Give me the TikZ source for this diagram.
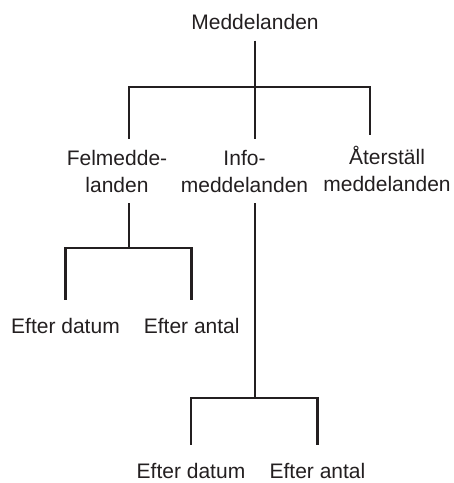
\documentclass[tikz,border=0pt]{standalone}
\usepackage{fontspec}
\setmainfont{Liberation Sans}
\usetikzlibrary{positioning}
\definecolor{ink}{RGB}{35,31,32}

\begin{document}
\begin{tikzpicture}[x=1pt,y=-1pt,
  lbl/.style={font=\fontsize{21}{27}\selectfont,text=ink,align=center,
              inner xsep=0pt,inner ysep=11pt},
  leaf/.style={lbl,inner ysep=1pt,anchor=base},
  conn/.style={draw=ink,line width=2.8pt},
  leafconn/.style={conn,shorten >=17pt}
]
\useasboundingbox (0,0) rectangle (454,483);
\node[lbl,anchor=base] (root) at (255,29.3) {Meddelanden};
\node[lbl] (fel) at (117,171) {Felmedde-\\landen};
\node[lbl] (info) at (244.5,171) {Info-\\meddelanden};
\node[lbl] (aters) at (387,169.3) {Återställ\\meddelanden};
\node[leaf] (datum1) at (65.5,333) {Efter datum};
\node[leaf] (antal1) at (191.7,333) {Efter antal};
\node[leaf] (datum2) at (191,478) {Efter datum};
\node[leaf] (antal2) at (317.5,478) {Efter antal};
\coordinate (j1) at (255,87);
\coordinate (j2) at (129,248);
\coordinate (j3) at (255,398);
\draw[conn] (root) -- (j1);
\draw[conn] (j1) -| ([xshift=12pt]fel.north);
\draw[conn] (j1) -| ([xshift=10.5pt]info.north);
\draw[conn] (j1) -| ([xshift=-17pt]aters.north);
\draw[conn] ([xshift=12pt]fel.south) -- (j2);
\draw[leafconn] (j2) -| (datum1.north);
\draw[leafconn] (j2) -| (antal1.north);
\draw[conn] ([xshift=10.5pt]info.south) -- (j3);
\draw[leafconn] (j3) -| (datum2.north);
\draw[leafconn] (j3) -| (antal2.north);
\end{tikzpicture}
\end{document}
